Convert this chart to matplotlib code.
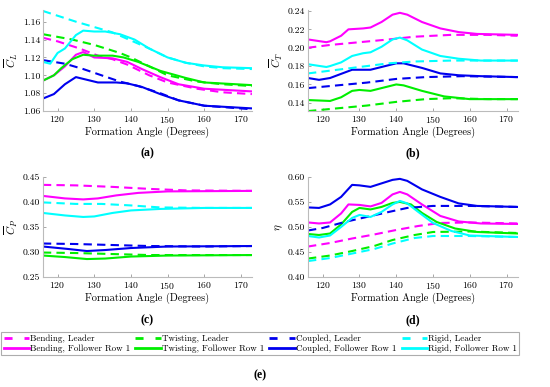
import numpy as np
import matplotlib
matplotlib.use("Agg")
import matplotlib.pyplot as plt
from matplotlib.lines import Line2D
from matplotlib.ticker import FormatStrFormatter

plt.rcParams['font.family'] = 'cmr10'
plt.rcParams['mathtext.fontset'] = 'cm'
plt.rcParams['axes.formatter.use_mathtext'] = True

# ---- data ----
# (a) mean lift coefficient
cl_bend_lead_x = [116, 120, 126, 131, 135, 139, 145, 150, 158, 165, 173]
cl_bend_lead_y = [1.142, 1.138, 1.130, 1.122, 1.118, 1.112, 1.100, 1.092, 1.085, 1.081, 1.079]
cl_bend_fol_x = [116, 119, 122, 125, 127, 130, 135, 139, 143, 148, 153, 160, 173]
cl_bend_fol_y = [1.094, 1.100, 1.110, 1.123, 1.126, 1.120, 1.119, 1.115, 1.107, 1.098, 1.090, 1.085, 1.082]
cl_twist_lead_x = [116, 124, 130, 137, 140, 145, 150, 158, 165, 173]
cl_twist_lead_y = [1.146, 1.140, 1.134, 1.125, 1.120, 1.110, 1.100, 1.093, 1.090, 1.088]
cl_twist_fol_x = [116, 119, 121, 124, 127, 130, 135, 138, 142, 148, 155, 160, 173]
cl_twist_fol_y = [1.094, 1.100, 1.108, 1.118, 1.123, 1.122, 1.122, 1.120, 1.115, 1.105, 1.097, 1.092, 1.089]
cl_coup_lead_x = [116, 122, 127, 132, 137, 142, 148, 153, 160, 173]
cl_coup_lead_y = [1.117, 1.113, 1.107, 1.100, 1.093, 1.088, 1.080, 1.072, 1.066, 1.062]
cl_coup_fol_x = [116, 119, 122, 125, 128, 131, 136, 139, 143, 148, 153, 160, 173]
cl_coup_fol_y = [1.074, 1.079, 1.090, 1.098, 1.095, 1.092, 1.092, 1.091, 1.087, 1.079, 1.072, 1.066, 1.063]
cl_rigid_lead_x = [116, 125, 135, 145, 150, 155, 160, 165, 173]
cl_rigid_lead_y = [1.172, 1.160, 1.148, 1.130, 1.120, 1.114, 1.110, 1.108, 1.107]
cl_rigid_fol_x = [116, 118, 120, 122, 125, 127, 130, 133, 137, 141, 145, 150, 155, 160, 165, 173]
cl_rigid_fol_y = [1.115, 1.113, 1.125, 1.130, 1.145, 1.150, 1.149, 1.149, 1.146, 1.140, 1.130, 1.120, 1.114, 1.111, 1.109, 1.108]

# (b) mean thrust coefficient
ct_bend_lead_x = [116, 122, 130, 138, 145, 155, 165, 173]
ct_bend_lead_y = [0.200, 0.203, 0.206, 0.209, 0.212, 0.214, 0.214, 0.213]
ct_bend_fol_x = [116, 121, 122, 125, 127, 131, 133, 136, 139, 141, 143, 147, 152, 157, 162, 173]
ct_bend_fol_y = [0.209, 0.206, 0.207, 0.213, 0.220, 0.221, 0.222, 0.228, 0.236, 0.238, 0.236, 0.228, 0.221, 0.217, 0.215, 0.214]
ct_twist_lead_x = [116, 124, 132, 140, 148, 155, 165, 173]
ct_twist_lead_y = [0.131, 0.134, 0.137, 0.141, 0.144, 0.145, 0.144, 0.144]
ct_twist_fol_x = [116, 122, 125, 128, 130, 133, 137, 140, 142, 147, 153, 160, 173]
ct_twist_fol_y = [0.143, 0.142, 0.146, 0.153, 0.154, 0.153, 0.157, 0.160, 0.159, 0.153, 0.147, 0.144, 0.144]
ct_coup_lead_x = [116, 124, 132, 140, 148, 158, 173]
ct_coup_lead_y = [0.156, 0.159, 0.162, 0.166, 0.168, 0.169, 0.168]
ct_coup_fol_x = [116, 119, 122, 126, 128, 133, 137, 140, 142, 147, 152, 157, 163, 173]
ct_coup_fol_y = [0.167, 0.165, 0.167, 0.173, 0.176, 0.176, 0.180, 0.183, 0.183, 0.178, 0.172, 0.170, 0.169, 0.168]
ct_rigid_lead_x = [116, 122, 130, 138, 145, 155, 173]
ct_rigid_lead_y = [0.172, 0.175, 0.179, 0.183, 0.185, 0.186, 0.186]
ct_rigid_fol_x = [116, 121, 122, 125, 128, 131, 133, 136, 139, 141, 143, 147, 152, 157, 163, 173]
ct_rigid_fol_y = [0.182, 0.179, 0.180, 0.184, 0.191, 0.194, 0.195, 0.201, 0.209, 0.211, 0.208, 0.198, 0.191, 0.188, 0.186, 0.186]

# (c) mean power coefficient
cp_bend_lead_x = [116, 125, 135, 145, 155, 173]
cp_bend_lead_y = [0.434, 0.433, 0.430, 0.426, 0.423, 0.422]
cp_bend_fol_x = [116, 122, 127, 131, 136, 142, 150, 173]
cp_bend_fol_y = [0.412, 0.407, 0.405, 0.407, 0.413, 0.418, 0.421, 0.422]
cp_twist_lead_x = [116, 125, 135, 145, 173]
cp_twist_lead_y = [0.299, 0.298, 0.296, 0.294, 0.294]
cp_twist_fol_x = [116, 122, 128, 133, 140, 150, 173]
cp_twist_fol_y = [0.293, 0.290, 0.286, 0.287, 0.291, 0.293, 0.294]
cp_coup_lead_x = [116, 125, 135, 145, 160, 173]
cp_coup_lead_y = [0.317, 0.316, 0.314, 0.312, 0.311, 0.312]
cp_coup_fol_x = [116, 123, 128, 133, 140, 150, 173]
cp_coup_fol_y = [0.311, 0.306, 0.302, 0.304, 0.308, 0.311, 0.312]
cp_rigid_lead_x = [116, 125, 132, 140, 148, 160, 173]
cp_rigid_lead_y = [0.399, 0.396, 0.396, 0.393, 0.389, 0.388, 0.388]
cp_rigid_fol_x = [116, 122, 127, 130, 135, 140, 148, 160, 173]
cp_rigid_fol_y = [0.378, 0.373, 0.370, 0.371, 0.378, 0.383, 0.386, 0.388, 0.388]

# (d) propulsive efficiency
eta_bend_lead_x = [116, 122, 128, 134, 140, 146, 152, 160, 173]
eta_bend_lead_y = [0.461, 0.468, 0.477, 0.485, 0.494, 0.502, 0.508, 0.509, 0.507]
eta_bend_fol_x = [116, 119, 122, 125, 127, 130, 133, 136, 139, 141, 143, 147, 152, 157, 163, 173]
eta_bend_fol_y = [0.509, 0.507, 0.509, 0.527, 0.545, 0.544, 0.541, 0.548, 0.565, 0.570, 0.565, 0.545, 0.522, 0.511, 0.507, 0.506]
eta_twist_lead_x = [116, 122, 128, 134, 139, 145, 150, 160, 173]
eta_twist_lead_y = [0.437, 0.443, 0.452, 0.462, 0.474, 0.484, 0.490, 0.491, 0.488]
eta_twist_fol_x = [116, 119, 122, 125, 128, 130, 133, 136, 139, 141, 144, 147, 151, 156, 162, 173]
eta_twist_fol_y = [0.486, 0.484, 0.487, 0.505, 0.530, 0.538, 0.535, 0.540, 0.548, 0.550, 0.545, 0.528, 0.510, 0.497, 0.490, 0.487]
eta_coup_lead_x = [116, 120, 126, 132, 138, 143, 150, 160, 173]
eta_coup_lead_y = [0.493, 0.498, 0.510, 0.520, 0.530, 0.538, 0.542, 0.542, 0.540]
eta_coup_fol_x = [116, 119, 122, 125, 128, 130, 133, 136, 139, 141, 143, 147, 152, 157, 162, 173]
eta_coup_fol_y = [0.539, 0.538, 0.545, 0.560, 0.584, 0.583, 0.580, 0.587, 0.594, 0.596, 0.592, 0.575, 0.560, 0.547, 0.542, 0.540]
eta_rigid_lead_x = [116, 122, 128, 134, 139, 145, 150, 160, 173]
eta_rigid_lead_y = [0.432, 0.438, 0.447, 0.456, 0.467, 0.478, 0.482, 0.482, 0.480]
eta_rigid_fol_x = [116, 119, 122, 125, 128, 130, 133, 136, 139, 141, 143, 146, 150, 155, 160, 173]
eta_rigid_fol_y = [0.482, 0.479, 0.483, 0.500, 0.518, 0.524, 0.520, 0.530, 0.545, 0.552, 0.547, 0.530, 0.508, 0.492, 0.483, 0.480]

cases = ['Bending', 'Twisting', 'Coupled', 'Rigid']
colors = {'Bending': '#ff00ff', 'Twisting': '#00ee00', 'Coupled': '#0000ee', 'Rigid': '#00ffff'}

panels = [
    ('a', r'$\overline{C}_L$', (1.06, 1.173), np.arange(1.06, 1.161, 0.02),
     [cl_bend_lead_x, cl_bend_lead_y, cl_bend_fol_x, cl_bend_fol_y,
      cl_twist_lead_x, cl_twist_lead_y, cl_twist_fol_x, cl_twist_fol_y,
      cl_coup_lead_x, cl_coup_lead_y, cl_coup_fol_x, cl_coup_fol_y,
      cl_rigid_lead_x, cl_rigid_lead_y, cl_rigid_fol_x, cl_rigid_fol_y]),
    ('b', r'$\overline{C}_T$', (0.131, 0.241), np.arange(0.14, 0.241, 0.02),
     [ct_bend_lead_x, ct_bend_lead_y, ct_bend_fol_x, ct_bend_fol_y,
      ct_twist_lead_x, ct_twist_lead_y, ct_twist_fol_x, ct_twist_fol_y,
      ct_coup_lead_x, ct_coup_lead_y, ct_coup_fol_x, ct_coup_fol_y,
      ct_rigid_lead_x, ct_rigid_lead_y, ct_rigid_fol_x, ct_rigid_fol_y]),
    ('c', r'$\overline{C}_P$', (0.25, 0.45), np.arange(0.25, 0.451, 0.05),
     [cp_bend_lead_x, cp_bend_lead_y, cp_bend_fol_x, cp_bend_fol_y,
      cp_twist_lead_x, cp_twist_lead_y, cp_twist_fol_x, cp_twist_fol_y,
      cp_coup_lead_x, cp_coup_lead_y, cp_coup_fol_x, cp_coup_fol_y,
      cp_rigid_lead_x, cp_rigid_lead_y, cp_rigid_fol_x, cp_rigid_fol_y]),
    ('d', r'$\eta$', (0.40, 0.60), np.arange(0.40, 0.601, 0.05),
     [eta_bend_lead_x, eta_bend_lead_y, eta_bend_fol_x, eta_bend_fol_y,
      eta_twist_lead_x, eta_twist_lead_y, eta_twist_fol_x, eta_twist_fol_y,
      eta_coup_lead_x, eta_coup_lead_y, eta_coup_fol_x, eta_coup_fol_y,
      eta_rigid_lead_x, eta_rigid_lead_y, eta_rigid_fol_x, eta_rigid_fol_y]),
]

# axes rectangles in figure fractions (left, bottom, width, height)
rects = {
    'a': [0.078, 0.713, 0.380, 0.261],
    'b': [0.560, 0.713, 0.381, 0.261],
    'c': [0.078, 0.284, 0.380, 0.259],
    'd': [0.560, 0.284, 0.381, 0.259],
}
label_y = {'a': 0.604, 'b': 0.604, 'c': 0.173, 'd': 0.173}

fig = plt.figure(figsize=(5.5, 3.87), dpi=100)
for tag, ylab, ylim, yticks, series in panels:
    ax = fig.add_axes(rects[tag])
    for i, case in enumerate(cases):
        lx, ly, fx, fy = series[4 * i:4 * i + 4]
        ax.plot(lx, ly, color=colors[case], lw=1.5, dashes=(4, 2.5))
        ax.plot(fx, fy, color=colors[case], lw=1.5)
    ax.set_xlim(116, 173)
    ax.set_ylim(*ylim)
    ax.set_xticks([120, 130, 140, 150, 160, 170])
    ax.set_yticks(yticks)
    ax.yaxis.set_major_formatter(FormatStrFormatter('%.2f'))
    ax.set_xlabel('Formation Angle (Degrees)', fontsize=7.5, labelpad=1)
    ax.set_ylabel(ylab, fontsize=8, labelpad=2)
    ax.tick_params(labelsize=7, direction='in', length=2, width=0.6,
                   color='#999999', pad=2)
    for s in ['top', 'right']:
        ax.spines[s].set_visible(False)
    for s in ['left', 'bottom']:
        ax.spines[s].set_color('#bbbbbb')
        ax.spines[s].set_linewidth(0.8)
    r = rects[tag]
    fig.text(r[0] + r[2] / 2, label_y[tag], f'({tag})', ha='center', va='center',
             fontsize=8.5, fontweight='bold', family='Liberation Serif')

# legend proxies: wide-gap dashes like the original legend
handles = []
for case in cases:
    handles.append(Line2D([], [], color=colors[case], lw=2, dashes=(2.9, 4.3),
                          label=f'{case}, Leader'))
    handles.append(Line2D([], [], color=colors[case], lw=2,
                          label=f'{case}, Follower Row 1'))

leg = fig.legend(handles=handles, loc='center', ncol=4,
                 bbox_to_anchor=(0.473, 0.112), fontsize=6.5, frameon=True,
                 fancybox=False, edgecolor='#999999', handlelength=2.8,
                 handletextpad=0.1, columnspacing=0.6, labelspacing=0.15,
                 borderpad=0.3, borderaxespad=0)
leg.get_frame().set_linewidth(0.8)
fig.text(0.473, 0.031, '(e)', ha='center', va='center', fontsize=8.5,
         fontweight='bold', family='Liberation Serif')

fig.savefig('out.png', dpi=100)
